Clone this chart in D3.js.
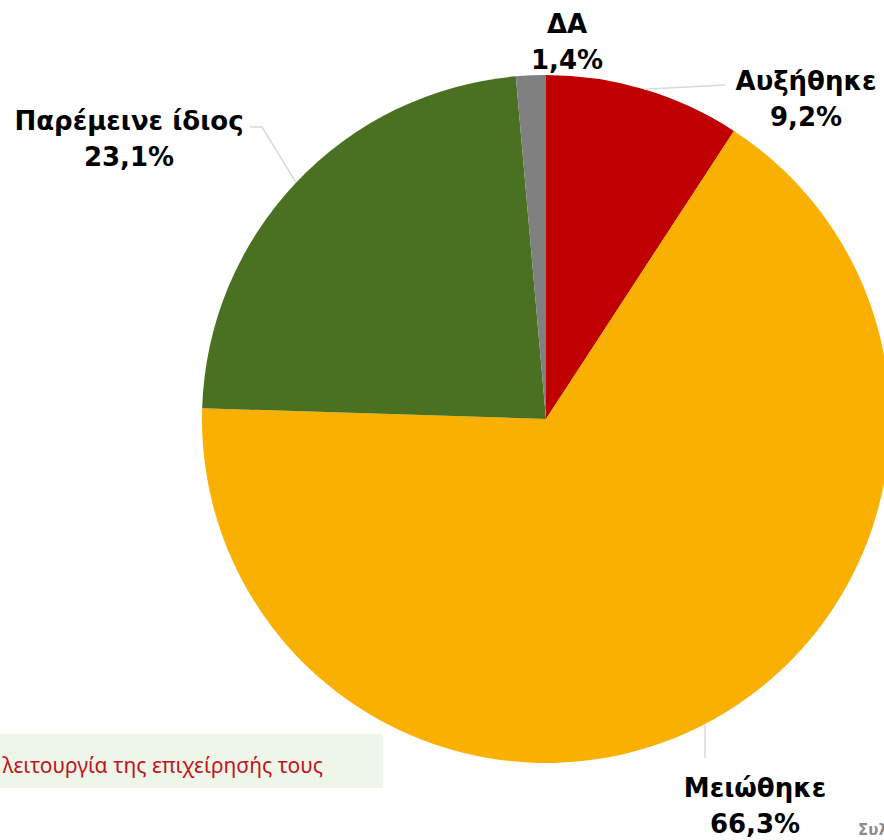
<!DOCTYPE html>
<html>
<head>
<meta charset="utf-8">
<script src="https://cdn.jsdelivr.net/npm/d3@7"></script>
<style>
body{margin:0;background:#fff;}
svg{display:block;}
</style>
</head>
<body>
<div id="Chart_Part"></div>
<script>
var Categories = ["Αυξήθηκε","Μειώθηκε","Παρέμεινε ίδιος","ΔΑ"];
var Values = [9.2,66.3,23.1,1.4];
var Colors = ["#C00000","#F9B000","#4A7021","#808080"];
var NoteText = "λειτουργία της επιχείρησής τους";
var SourceText = "Συλλογή";

var Width = 884, Height = 840;
var CenterX = 546, CenterY = 419, Radius = 344;
var FontLabel = "'DejaVu Sans', sans-serif";

var svg = d3.select('#Chart_Part')
	.append("svg")
	.attr("width",Width)
	.attr("height",Height);

// note box bottom left
svg.append("rect")
	.attr("x",0).attr("y",734)
	.attr("width",383).attr("height",54)
	.style("fill","#EEF5E9");

svg.append("text")
	.attr("x",323).attr("y",773)
	.attr("text-anchor","end")
	.text(NoteText)
	.style("font-family","'Noto Sans', sans-serif")
	.style("font-size","21px")
	.style("fill","#C0151A");

var pie = d3.pie().sort(null).value(function(d){return d;});
var arcs = pie(Values);
var arc = d3.arc().innerRadius(0).outerRadius(Radius);

var g = svg.append("g")
	.attr("transform","translate(" + CenterX + "," + CenterY + ")");

g.selectAll("path")
	.data(arcs)
	.enter()
	.append("path")
	.attr("d",arc)
	.style("fill",function(d,i){return Colors[i];});

function EdgePoint(d)
{
	var a = (d.startAngle + d.endAngle)/2;
	return [Radius*Math.sin(a), -Radius*Math.cos(a)];
}

// label placement relative to the pie centre: [x, y of first line, leader points]
var LabelSpots = [
	{x:260, y:-329, leader:[[179,-334]]},
	{x:209, y:378, leader:[[159,339]]},
	{x:-417, y:-289, leader:[[-284,-292],[-296,-292]]},
	{x:21, y:-386, leader:null}
];

arcs.forEach(function(d,i)
{
	var spot = LabelSpots[i];
	if(spot.leader)
	{
		var pts = [EdgePoint(d)].concat(spot.leader);
		g.append("path")
			.attr("d",d3.line()(pts))
			.style("fill","none")
			.style("stroke","#D9D9D9")
			.style("stroke-width",1.5);
	}
	var t = g.append("text")
		.attr("text-anchor","middle")
		.style("font-family",FontLabel)
		.style("font-weight","bold")
		.style("font-size","26px")
		.style("fill","#000");
	t.append("tspan")
		.attr("x",spot.x).attr("y",spot.y)
		.text(Categories[i]);
	t.append("tspan")
		.attr("x",spot.x).attr("dy",36)
		.text(String(Values[i]).replace(".",",") + "%");
});

svg.append("text")
	.attr("x",858).attr("y",835)
	.text(SourceText)
	.style("font-family",FontLabel)
	.style("font-weight","bold")
	.style("font-size","15px")
	.style("fill","#8C8C8C");
</script>
</body>
</html>
